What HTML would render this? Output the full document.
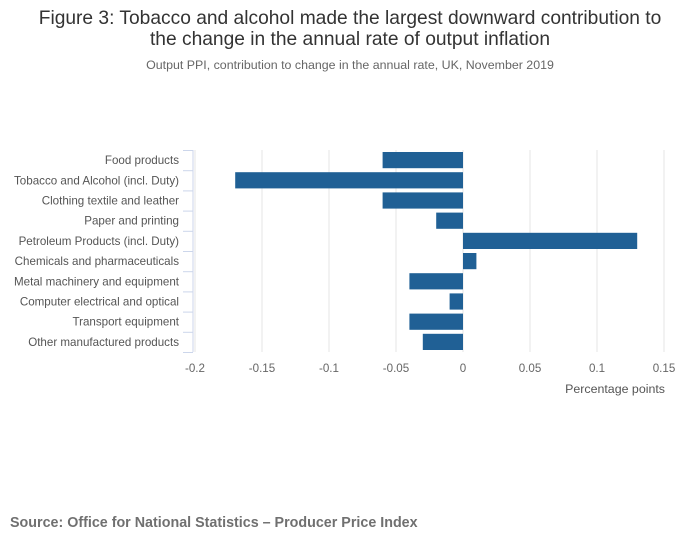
<!DOCTYPE html>
<html><head><meta charset="utf-8"><style>
body{margin:0;background:#fff;width:700px;height:549px;overflow:hidden;font-family:"Liberation Sans",sans-serif}
</style></head><body>
<svg width="700" height="549" id="c">
<text x="350" y="24" text-anchor="middle" font-size="19.2" fill="#333">Figure 3: Tobacco and alcohol made the largest downward contribution to</text>
<text x="350" y="45" text-anchor="middle" font-size="19.2" fill="#333">the change in the annual rate of output inflation</text>
<text x="350" y="69" text-anchor="middle" font-size="12.4" fill="#666">Output PPI, contribution to change in the annual rate, UK, November 2019</text>
<text x="665" y="393" text-anchor="end" font-size="12.4" fill="#555">Percentage points</text>
<text x="10" y="527" font-size="14.3" font-weight="bold" fill="#707070">Source: Office for National Statistics – Producer Price Index</text>
<g id="grid"></g><g id="bars"></g><g id="axes"></g>
</svg>
<script>
const categories=["Food products","Tobacco and Alcohol (incl. Duty)","Clothing textile and leather","Paper and printing","Petroleum Products (incl. Duty)","Chemicals and pharmaceuticals","Metal machinery and equipment","Computer electrical and optical","Transport equipment","Other manufactured products"];
const values=[-0.06,-0.17,-0.06,-0.02,0.13,0.01,-0.04,-0.01,-0.04,-0.03];
const ticks=[-0.2,-0.15,-0.1,-0.05,0,0.05,0.1,0.15];
const tickLabels=["-0.2","-0.15","-0.1","-0.05","0","0.05","0.1","0.15"];
const NS="http://www.w3.org/2000/svg";
const x=v=>463+v*1340;
const top0=150,band=20.2;
const y=i=>top0+i*band;
function mk(t,a,p){const e=document.createElementNS(NS,t);for(const k in a)e.setAttribute(k,a[k]);p.appendChild(e);return e;}
const grid=document.getElementById('grid'),bars=document.getElementById('bars'),axes=document.getElementById('axes');
ticks.forEach((t,i)=>{
 const l=mk('line',{x1:x(t),x2:x(t),y1:top0,y2:top0+band*categories.length,stroke:'#e6e6e6','stroke-width':1},grid);
 
 
 const tx=mk('text',{x:x(t),y:372,'text-anchor':'middle','font-size':11.6,fill:'#666'},axes);
 tx.textContent=tickLabels[i];
 
 
});
const al=mk('line',{x1:193,x2:193,y1:top0,y2:top0+band*categories.length,stroke:'#ccd6eb'},axes);


categories.forEach((c,i)=>{
 const tk=mk('line',{x1:183,x2:193,y1:y(i)+0.5,y2:y(i)+0.5,stroke:'#ccd6eb'},axes);
 
 
 const tx=mk('text',{x:179,y:y(i)+band/2+4,'text-anchor':'end','font-size':11.6,fill:'#555'},axes);
 tx.textContent=c;
 
 
 const v=values[i];
 const r=mk('rect',{x:Math.min(x(0),x(v)),y:y(i)+2,width:Math.abs(x(v)-x(0)),height:band-4,fill:'#206095'},bars);
 
 
});
const tk=mk('line',{x1:183,x2:193,y1:y(categories.length)+0.5,y2:y(categories.length)+0.5,stroke:'#ccd6eb'},axes);


</script>
</body></html>
